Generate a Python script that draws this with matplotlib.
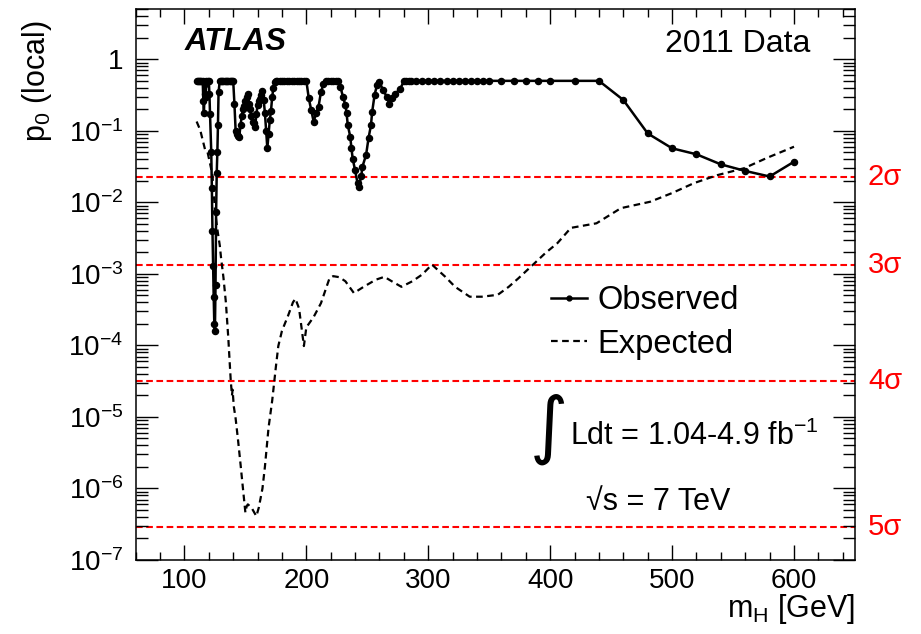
import math
import matplotlib
matplotlib.use("Agg")
import matplotlib.pyplot as plt
import matplotlib.transforms as mtransforms
from matplotlib.lines import Line2D
from matplotlib.ticker import MultipleLocator, LogLocator, FixedLocator, FuncFormatter, NullFormatter

plt.rcParams["font.family"] = ["Liberation Sans", "DejaVu Sans"]
plt.rcParams["mathtext.fontset"] = "custom"
plt.rcParams["mathtext.rm"] = "Liberation Sans"
plt.rcParams["mathtext.it"] = "Liberation Sans:italic"
plt.rcParams["mathtext.bf"] = "Liberation Sans:bold"

# observed local p0
obs_mass = [110, 111, 112, 113, 114, 115, 115.5, 116, 116.5, 117, 117.5, 118, 119, 120, 120.5,
            121, 122, 122.5, 123, 123.5, 124, 124.5, 125, 125.5, 126, 126.5, 127, 127.5, 128, 129,
            130, 131, 132, 133, 134, 135, 136, 137, 138, 139, 140,
            141, 142, 143, 144, 145, 146, 147, 148, 149, 150, 151, 152, 153, 154, 155, 156, 157, 158,
            159, 160, 161, 162, 163, 164, 165, 166, 167, 168, 169, 170, 171, 172, 173, 174, 175,
            176, 178, 180, 182, 184, 186, 188, 190, 192, 194, 196, 198, 200,
            202, 204, 206, 208, 210, 212, 214, 216, 218, 220, 222, 224, 226,
            228, 230, 232, 233, 234, 236, 237, 238, 240, 242, 243, 245, 246, 249, 251, 253, 254,
            256, 258, 260, 263, 266, 268, 270, 273, 277, 280, 282, 284, 286,
            290, 295, 300, 305, 310, 315, 320, 325, 330, 335, 340, 345, 350,
            360, 370, 380, 390, 400, 420, 440, 460, 480, 500, 520, 540, 560, 580, 600]
obs_p0 = [0.5, 0.5, 0.5, 0.5, 0.5, 0.5, 0.26, 0.18, 0.33, 0.45, 0.3, 0.5, 0.5, 0.5, 0.33,
          0.17, 0.051, 0.016, 4.0e-3, 1.3e-3, 4.8e-4, 2.0e-4, 1.6e-4, 7.0e-4, 7.4e-3, 0.026, 0.05, 0.12, 0.35, 0.5,
          0.5, 0.5, 0.5, 0.5, 0.5, 0.5, 0.5, 0.5, 0.5, 0.5, 0.5,
          0.24, 0.10, 0.09, 0.085, 0.083, 0.12, 0.16, 0.2, 0.22, 0.26, 0.3, 0.33, 0.24, 0.2, 0.16, 0.134, 0.13, 0.114,
          0.17, 0.23, 0.26, 0.28, 0.32, 0.36, 0.27, 0.18, 0.1, 0.057, 0.09, 0.14, 0.19, 0.3, 0.4, 0.48, 0.5,
          0.5, 0.5, 0.5, 0.5, 0.5, 0.5, 0.5, 0.5, 0.5, 0.5, 0.5, 0.5, 0.5,
          0.285, 0.196, 0.134, 0.176, 0.218, 0.35, 0.45, 0.5, 0.5, 0.5, 0.5, 0.5, 0.5,
          0.41, 0.3, 0.23, 0.176, 0.12, 0.083, 0.057, 0.041, 0.028, 0.0185, 0.0166, 0.023, 0.0316, 0.046, 0.079, 0.12, 0.185,
          0.32, 0.44, 0.48, 0.37, 0.3, 0.24, 0.29, 0.33, 0.39, 0.49, 0.5, 0.5, 0.5,
          0.5, 0.5, 0.5, 0.5, 0.5, 0.5, 0.5, 0.5, 0.5, 0.5, 0.5, 0.5, 0.5,
          0.5, 0.5, 0.5, 0.5, 0.5, 0.5, 0.5, 0.27, 0.092, 0.057, 0.047, 0.034, 0.0275, 0.023, 0.037]

# expected local p0
exp_mass = [110, 113, 115, 117, 119, 121, 123, 125, 127, 129, 130, 132, 134, 136, 137, 138, 139, 139.5, 140.5,
            142, 144, 146, 148, 150, 151, 152, 155, 159, 161, 164, 166, 169, 172, 175, 177, 180, 185, 189,
            191, 194, 196, 198, 200, 202, 206, 212, 219, 222, 227, 232, 239, 247, 257, 264, 270, 278, 287,
            295, 303, 314, 322, 334, 344, 357, 366, 374, 386, 396, 406, 417, 438, 458, 482, 500, 518, 537,
            559, 578, 600]
exp_p0 = [0.135, 0.102, 0.074, 0.054, 0.050, 0.035, 0.024, 7.9e-3, 4.2e-3, 2.5e-3, 1.7e-3, 8.9e-4, 4.0e-4,
          1.26e-4, 6.3e-5, 3.2e-5, 2.0e-5, 2.4e-5, 1.4e-5, 9.5e-6, 4.7e-6, 2.2e-6, 1.0e-6, 4.6e-7, 5.6e-7,
          6.0e-7, 5.4e-7, 4.1e-7, 5.4e-7, 1.0e-6, 2.0e-6, 7.1e-6, 1.7e-5, 5.0e-5, 9.8e-5, 1.6e-4, 2.6e-4,
          4.0e-4, 4.5e-4, 3.3e-4, 1.8e-4, 9.8e-5, 1.8e-4, 2.0e-4, 2.5e-4, 3.9e-4, 8.7e-4, 9.3e-4, 9.0e-4,
          7.9e-4, 5.4e-4, 6.6e-4, 8.3e-4, 9.1e-4, 7.9e-4, 6.6e-4, 7.9e-4, 9.8e-4, 1.35e-3, 9.1e-4, 6.6e-4,
          4.8e-4, 4.8e-4, 5.1e-4, 6.6e-4, 8.7e-4, 1.35e-3, 1.95e-3, 2.7e-3, 4.4e-3, 5.1e-3, 8.3e-3, 0.0102,
          0.0135, 0.0186, 0.024, 0.030, 0.042, 0.060]

sigma_labels = ["2σ", "3σ", "4σ", "5σ"]
sigma_p0 = [2.275e-2, 1.35e-3, 3.17e-5, 2.87e-7]
y_ticks = [1e-7, 1e-6, 1e-5, 1e-4, 1e-3, 1e-2, 1e-1, 1]

fig = plt.figure(figsize=(9.21, 6.34), dpi=100)
ax = fig.add_axes([0.1473, 0.1167, 0.781, 0.8686])

for p in sigma_p0:
    ax.axhline(p, color="#ff0000", lw=1.5, ls=(0, (3.2, 1.7)), zorder=1)

ax.plot(exp_mass, exp_p0, color="black", lw=1.6, ls=(0, (3.0, 2.0)), zorder=2)
ax.plot(obs_mass, obs_p0, color="black", lw=1.8, marker="o", ms=4.4, zorder=3)

ax.set_yscale("log")
ax.set_xlim(60, 650)
ax.set_ylim(1e-7, 5)

ax.xaxis.set_major_locator(MultipleLocator(100))
ax.xaxis.set_minor_locator(MultipleLocator(20))
ax.yaxis.set_major_locator(FixedLocator(y_ticks))
ax.yaxis.set_minor_locator(LogLocator(base=10, subs=range(2, 10), numticks=20))
ax.yaxis.set_minor_formatter(NullFormatter())


def fmt_log(v, pos):
    if abs(v - 1) < 1e-9:
        return "1"
    return r"$10^{%d}$" % int(round(math.log10(v)))


ax.yaxis.set_major_formatter(FuncFormatter(fmt_log))

ax.tick_params(which="both", direction="in", top=True, right=True, labelsize=20, width=1.0)
ax.tick_params(axis="x", which="major", length=11, pad=6)
ax.tick_params(axis="x", which="minor", length=6)
ax.tick_params(axis="y", which="major", length=16, pad=9)
ax.tick_params(axis="y", which="minor", length=8.5)
for s in ax.spines.values():
    s.set_linewidth(1.1)

trans = mtransforms.blended_transform_factory(ax.transAxes, ax.transData)
for lab, p in zip(sigma_labels, sigma_p0):
    ax.text(1.018, p, lab, transform=trans, color="#ff0000", fontsize=21, va="center", ha="left")

ax.text(0.0685, 0.926, "ATLAS", transform=ax.transAxes, fontsize=22.5, fontweight="bold",
        fontstyle="italic", va="baseline", ha="left")
ax.text(0.9375, 0.923, "2011 Data", transform=ax.transAxes, fontsize=23, va="baseline", ha="right")

ax.text(0.5745, 0.238, "∫", transform=ax.transAxes, fontsize=53, family="DejaVu Sans",
        va="center", ha="center")
ax.text(0.604, 0.209, r"Ldt = 1.04-4.9 fb$^{-1}$", transform=ax.transAxes, fontsize=22,
        va="baseline", ha="left")
ax.text(0.626, 0.091, "√s = 7 TeV", transform=ax.transAxes, fontsize=22, va="baseline", ha="left")

handles = [Line2D([], [], color="black", lw=1.8, marker="o", ms=3.5),
           Line2D([], [], color="black", lw=1.6, ls=(0, (3.0, 2.0)))]
ax.legend(handles, ["Observed", "Expected"], loc="upper left", bbox_to_anchor=(0.578, 0.499),
          frameon=False, fontsize=23.5, handlelength=1.1, handletextpad=0.3, labelspacing=0.38,
          borderpad=0, borderaxespad=0)

ax.text(-0.137, 0.981, r"p$_0$ (local)", transform=ax.transAxes, rotation=90, fontsize=22,
        va="top", ha="center")
ax.text(1.0, -0.104, r"m$_{\rm H}$ [GeV]", transform=ax.transAxes, fontsize=22,
        va="baseline", ha="right")

fig.savefig("out.png", dpi=100)
